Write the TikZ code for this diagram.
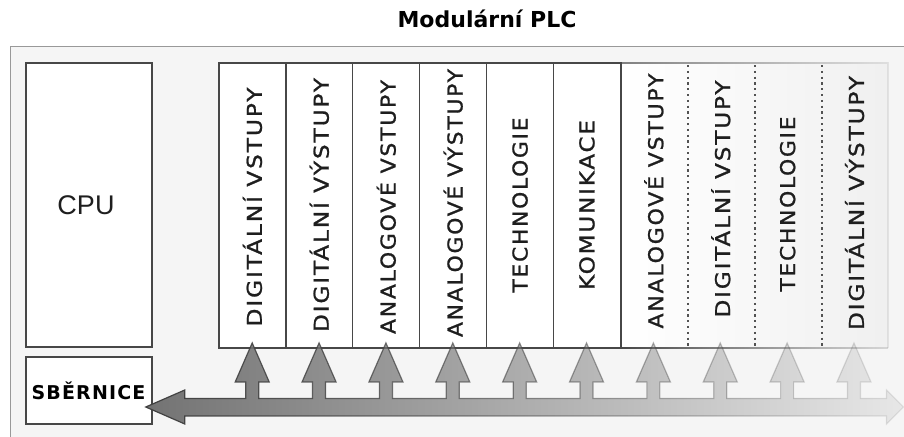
\documentclass[tikz,border=0pt]{standalone}
\usepackage{fontspec}
\setmainfont{Liberation Sans}
\newfontfamily\djb{DejaVu Sans}
\newfontfamily\modfont[LetterSpace=8, FakeBold=1]{DejaVu Sans}
\newfontfamily\busfont[LetterSpace=6]{DejaVu Sans}
\usetikzlibrary{fadings}
\tikzfading[name=busfade, left color=transparent!0, right color=transparent!90]
\tikzfading[name=modfade, left color=transparent!0, right color=transparent!85]
\definecolor{txt}{HTML}{1E1E1E}
\definecolor{bord}{HTML}{474747}
\begin{document}
\begin{tikzpicture}[x=1pt,y=-1pt,
  box/.style={draw=bord, line width=1.3pt, fill=white, inner sep=0pt},
  modbox/.style={box, minimum width=66.9pt, minimum height=285pt},
  lbl/.style={rotate=90, text=txt, font=\modfont\fontsize{20.5}{22}\selectfont, inner sep=0pt},
  dotline/.style={black!68, line width=2.2pt, dash pattern=on 2.2pt off 3.6pt}]
\useasboundingbox (0,0) rectangle (904,436);
\clip (0,0) rectangle (904,436);
% outer frame
\draw[black!40, line width=1.6pt, fill=black!4] (10.5,46.5) rectangle (930,460);
% title
\node[font=\djb\bfseries\fontsize{22}{24}\selectfont, text=black, anchor=base] (title) at (487,28) {Modulární PLC};
% CPU and bus boxes
\node[box, minimum width=126pt, minimum height=284pt] (cpu) at (89,205) {};
\node[font=\fontsize{27}{30}\selectfont, text=txt] at (86,205) {CPU};
\node[box, minimum width=126pt, minimum height=67pt] (sb) at (89,390.5) {};
\node[font=\busfont\bfseries\fontsize{19}{21}\selectfont, text=black] at (88.5,390.5) {SBĚRNICE};
% faded module region
\fill[left color=white, right color=black!6] (621,63) rectangle (888,348);
\draw[black!50, line width=1.2pt, path fading=modfade] (621,63) -- (888,63) -- (888,348);
\draw[bord, line width=1.3pt, path fading=modfade] (621,348) -- (888,348);
\foreach \x in {688,755,822} \draw[dotline] (\x,65) -- (\x,347);
% solid modules
\foreach \i in {1,...,6}
  \node[modbox] (m\i) at ({219+66.9*(\i-0.5)},205.5) {};
\draw[bord, line width=1.3pt] (m6.north east) -- (m6.south east);
% labels (index / text / printed length / centre)
\foreach \i/\t/\l/\c in {1/DIGITÁLNÍ VSTUPY/239/207, 2/DIGITÁLNÍ VÝSTUPY/254/205, 3/ANALOGOVÉ VSTUPY/254/207, 4/ANALOGOVÉ VÝSTUPY/268/203, 5/TECHNOLOGIE/175/205, 6/KOMUNIKACE/170/205, 7/ANALOGOVÉ VSTUPY/255/201, 8/DIGITÁLNÍ VSTUPY/237/199, 9/TECHNOLOGIE/175/204, 10/DIGITÁLNÍ VÝSTUPY/254/203}
  \node[lbl] (t\i) at ({219+66.9*(\i-0.5)},\c) {\resizebox{\l pt}{\height}{\t}};
% bus with arrows
\path[fill=black!55, draw=black!75, line width=1.2pt, line join=miter, path fading=busfade]
  (146,407) -- (185,390) -- (185,398.5)
  \foreach \i in {1,...,10} {
    -- ({219+66.9*(\i-0.5)-6.5},398.5) -- ({219+66.9*(\i-0.5)-6.5},382)
    -- ({219+66.9*(\i-0.5)-17},382) -- ({219+66.9*(\i-0.5)},343)
    -- ({219+66.9*(\i-0.5)+17},382) -- ({219+66.9*(\i-0.5)+6.5},382)
    -- ({219+66.9*(\i-0.5)+6.5},398.5) }
  -- (887,398.5) -- (887,390) -- (904,407) -- (887,424) -- (887,416)
  -- (185,416) -- (185,424) -- cycle;
\end{tikzpicture}
\end{document}
